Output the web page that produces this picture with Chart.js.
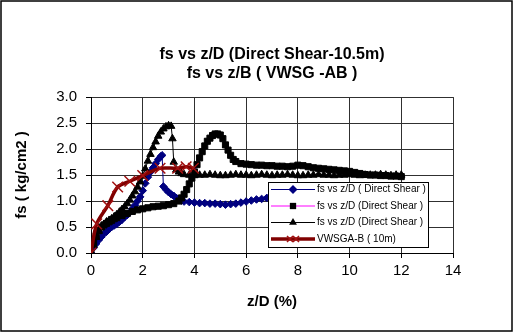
<!DOCTYPE html>
<html>
<head>
<meta charset="utf-8">
<script src="https://cdn.jsdelivr.net/npm/chart.js@4.4.0/dist/chart.umd.min.js"></script>
<style>
  body { margin: 0; background: #fff; }
  canvas { display: block; }
</style>
</head>
<body>
<canvas id="fsChart" width="513" height="332"></canvas>
<script>
var FONT = 'Arial, "Liberation Sans", sans-serif';

var titleLines = ['fs vs z/D (Direct Shear-10.5m)', 'fs vs z/B ( VWSG -AB )'];
var xTitle = 'z/D (%)';
var yTitle = 'fs ( kg/cm2 )';
var legendLabels = ['fs vs z/D ( Direct Shear )', 'fs vs z/D (Direct Shear )', 'fs vs z/D (Direct Shear )', 'VWSGA-B ( 10m)'];

// direct shear, run 1 (blue diamonds)
var shear1X = [0,0.1,0.2,0.3,0.4,0.5,0.6,0.7,0.8,0.9,1.0,1.1,1.2,1.3,1.4,1.5,1.6,1.7,1.8,1.9,2.0,2.1,2.2,2.3,2.4,2.5,2.6,2.7,2.75,
  2.8,2.9,3.0,3.1,3.2,3.3,3.4,3.5,3.6,3.8,4.0,4.2,4.4,4.6,4.8,5.0,5.2,5.4,5.6,5.8,6.0,6.2,6.4,6.6,6.8,7.0];
var shear1Y = [0,0.1,0.18,0.25,0.31,0.37,0.41,0.46,0.5,0.53,0.56,0.6,0.64,0.69,0.73,0.78,0.85,0.92,1.0,1.08,1.2,1.34,1.46,1.56,1.64,1.72,1.8,1.86,1.88,
  1.28,1.22,1.17,1.13,1.1,1.06,1.03,1.01,0.99,0.98,0.97,0.96,0.96,0.95,0.95,0.94,0.93,0.94,0.95,0.97,0.99,1.01,1.03,1.04,1.06,1.07];

// direct shear, run 2 (black squares on magenta line)
var shear2X = [0,0.1,0.2,0.3,0.4,0.5,0.6,0.7,0.8,0.9,1.0,1.2,1.4,1.6,1.8,2.0,2.2,2.4,2.6,2.8,3.0,3.2,3.4,
  3.5,3.6,3.7,3.8,3.9,4.0,4.1,4.2,4.3,4.4,4.5,4.6,4.7,4.8,4.9,5.0,5.1,5.2,5.3,5.4,5.5,5.6,
  5.8,6.0,6.2,6.4,6.6,6.8,7.0,7.2,7.4,7.6,7.8,8.0,8.2,8.4,8.6,8.8,9.0,9.2,9.4,9.6,9.8,10.0,10.2,10.4,10.6,10.8,11.0,11.2,11.4,11.6,11.8,12.0];
var shear2Y = [0,0.2,0.33,0.43,0.5,0.54,0.57,0.6,0.63,0.66,0.68,0.72,0.76,0.8,0.83,0.85,0.87,0.89,0.9,0.91,0.93,0.95,1.0,
  1.06,1.13,1.22,1.33,1.44,1.56,1.7,1.83,1.95,2.06,2.15,2.21,2.26,2.29,2.29,2.27,2.2,2.08,1.98,1.88,1.8,1.76,
  1.72,1.71,1.7,1.69,1.69,1.68,1.68,1.67,1.67,1.66,1.67,1.69,1.68,1.66,1.64,1.63,1.62,1.61,1.6,1.59,1.58,1.57,1.55,1.53,1.51,1.5,1.5,1.49,1.49,1.48,1.48,1.47];

// direct shear, run 3 (black triangles)
var shear3X = [0,0.1,0.2,0.3,0.4,0.5,0.6,0.7,0.8,0.9,1.0,1.1,1.2,1.3,1.4,1.5,1.6,1.7,1.8,1.9,2.0,2.1,2.2,2.3,2.4,2.5,2.6,2.7,2.8,2.9,3.0,3.1,
  3.15,3.2,3.3,3.4,3.5,3.6,
  3.8,4.0,4.2,4.4,4.6,4.8,5.0,5.2,5.4,5.6,5.8,6.0,6.2,6.4,6.6,6.8,7.0,7.2,7.4,7.6,7.8,8.0,8.2,8.4,8.6,8.8,9.0,9.2,9.4,9.6,9.8,10.0,
  10.2,10.4,10.6,10.8,11.0,11.2,11.4,11.6,11.8,12.0];
var shear3Y = [0,0.15,0.3,0.42,0.5,0.55,0.6,0.63,0.66,0.7,0.74,0.79,0.84,0.89,0.95,1.02,1.1,1.18,1.27,1.37,1.48,1.62,1.77,1.9,2.03,2.14,2.25,2.33,2.39,2.43,2.45,2.44,
  2.2,1.75,1.6,1.56,1.53,1.51,
  1.5,1.49,1.5,1.5,1.51,1.5,1.49,1.49,1.5,1.51,1.5,1.5,1.49,1.5,1.51,1.5,1.49,1.5,1.5,1.51,1.5,1.49,1.49,1.5,1.5,1.51,1.5,1.5,1.49,1.5,1.5,1.51,
  1.5,1.49,1.5,1.5,1.5,1.51,1.5,1.49,1.5,1.5];

// strain gauge VWSGA-B at 10 m
var gaugeX = [0,0.22,0.65,1.03,1.5,2.0,2.67,3.35,3.68,3.96];
var gaugeY = [0,0.56,0.91,1.27,1.38,1.49,1.63,1.63,1.66,1.63];

var xTicks = [0, 14, 2];
var yTicks = [0, 3, 0.5];

function pairs(xs, ys) {
  return xs.map(function(x, i) { return {x: x, y: ys[i]}; });
}

var series = [
  {label: legendLabels[0], data: pairs(shear1X, shear1Y), borderColor: '#000080', borderWidth: 1,
   pointStyle: 'rectRot', pointRadius: 3.8, pointBackgroundColor: '#000080', pointBorderColor: '#000080', order: 4},
  {label: legendLabels[1], data: pairs(shear2X, shear2Y), borderColor: '#ff00ff', borderWidth: 1,
   pointStyle: 'rect', pointRadius: 4.3, pointBackgroundColor: '#000', pointBorderColor: '#000', order: 3},
  {label: legendLabels[2], data: pairs(shear3X, shear3Y), borderColor: '#000', borderWidth: 1,
   pointStyle: 'triangle', pointRadius: 4.3, pointBackgroundColor: '#000', pointBorderColor: '#000', order: 2},
  {label: legendLabels[3], data: pairs(gaugeX, gaugeY), borderColor: '#800000', borderWidth: 3.5, tension: 0.3,
   pointStyle: 'crossRot', pointRadius: 7.5, pointBorderWidth: 1.5, pointBorderColor: '#a01010', order: 1}
];

// small marker painter for the legend box
function marker(ctx, style, x, y, r, fill) {
  ctx.save();
  ctx.fillStyle = fill;
  ctx.strokeStyle = fill;
  ctx.beginPath();
  if (style === 'rectRot') {
    ctx.moveTo(x, y - r); ctx.lineTo(x + r, y); ctx.lineTo(x, y + r); ctx.lineTo(x - r, y); ctx.closePath(); ctx.fill();
  } else if (style === 'rect') {
    ctx.rect(x - r * 0.7, y - r * 0.7, r * 1.4, r * 1.4); ctx.fill();
  } else if (style === 'triangle') {
    ctx.moveTo(x, y - r); ctx.lineTo(x + r * 0.87, y + r * 0.5); ctx.lineTo(x - r * 0.87, y + r * 0.5); ctx.closePath(); ctx.fill();
  } else {
    ctx.lineWidth = 1.5;
    ctx.moveTo(x - r, y - r); ctx.lineTo(x + r, y + r); ctx.moveTo(x + r, y - r); ctx.lineTo(x - r, y + r); ctx.stroke();
  }
  ctx.restore();
}

var legendBox = {
  id: 'legendBox',
  afterDatasetsDraw: function(chart) {
    var ctx = chart.ctx;
    var left = 268, top = 182, w = 160, h = 65, rowH = 16.5;
    ctx.save();
    ctx.fillStyle = '#fff';
    ctx.fillRect(left, top, w, h);
    ctx.strokeStyle = '#000';
    ctx.lineWidth = 1;
    ctx.strokeRect(left + 0.5, top + 0.5, w, h);
    ctx.font = '10px ' + FONT;
    ctx.textBaseline = 'middle';
    series.forEach(function(s, i) {
      var y = top + 7.5 + i * rowH;
      ctx.strokeStyle = s.borderColor;
      ctx.lineWidth = s.borderWidth;
      ctx.beginPath();
      ctx.moveTo(left + 3, y);
      ctx.lineTo(left + 47, y);
      ctx.stroke();
      if (s.pointStyle === 'crossRot') {
        marker(ctx, 'cross', left + 22, y, 3, '#a01010');
        marker(ctx, 'cross', left + 28, y, 3, '#a01010');
      } else {
        marker(ctx, s.pointStyle, left + 25, y, 4.5, s.pointBackgroundColor);
      }
      ctx.fillStyle = '#000';
      ctx.fillText(s.label, left + 49, y);
    });
    ctx.restore();
  }
};

var pageFrame = {
  id: 'pageFrame',
  beforeDraw: function(chart) {
    var ctx = chart.ctx;
    ctx.save();
    ctx.fillStyle = '#fff';
    ctx.fillRect(0, 0, chart.width, chart.height);
    ctx.restore();
  },
  afterDraw: function(chart) {
    var ctx = chart.ctx;
    ctx.save();
    ctx.strokeStyle = '#000';
    ctx.lineWidth = 1.5;
    ctx.strokeRect(1, 1, chart.width - 2, chart.height - 2);
    ctx.restore();
  }
};

var fsChart = new Chart(document.getElementById('fsChart'), {
  type: 'scatter',
  data: {datasets: series.map(function(s) { return Object.assign({showLine: true, fill: false}, s); })},
  plugins: [pageFrame, legendBox],
  options: {
    responsive: false,
    animation: false,
    layout: {padding: {left: 0, right: 60, top: 0, bottom: 0}},
    plugins: {
      legend: {display: false},
      tooltip: {enabled: false},
      title: {
        display: true,
        fullSize: false,
        text: titleLines,
        color: '#000',
        font: {family: FONT, size: 16, weight: 'bold', lineHeight: 1.19},
        padding: {top: 45, bottom: 14}
      }
    },
    scales: {
      x: {
        type: 'linear',
        min: xTicks[0], max: xTicks[1],
        ticks: {stepSize: xTicks[2], color: '#000', font: {family: FONT, size: 15}, padding: 4, maxRotation: 0},
        grid: {color: '#303030', tickLength: 5, tickColor: '#000'},
        border: {color: '#000'},
        title: {display: true, text: xTitle, color: '#000', font: {family: FONT, size: 15, weight: 'bold'}, padding: {top: 0, bottom: 21}},
        afterFit: function(scale) { scale.height = 79; }
      },
      y: {
        min: yTicks[0], max: yTicks[1],
        ticks: {stepSize: yTicks[2], color: '#000', font: {family: FONT, size: 15}, padding: 9,
          callback: function(v) { return v.toFixed(1); }},
        grid: {color: '#303030', tickLength: 5, tickColor: '#000'},
        border: {color: '#000'},
        title: {display: true, text: yTitle, color: '#000', font: {family: FONT, size: 15, weight: 'bold'}, padding: {top: 13, bottom: 0}},
        afterFit: function(scale) { scale.width = 91; }
      }
    }
  }
});
</script>
</body>
</html>
